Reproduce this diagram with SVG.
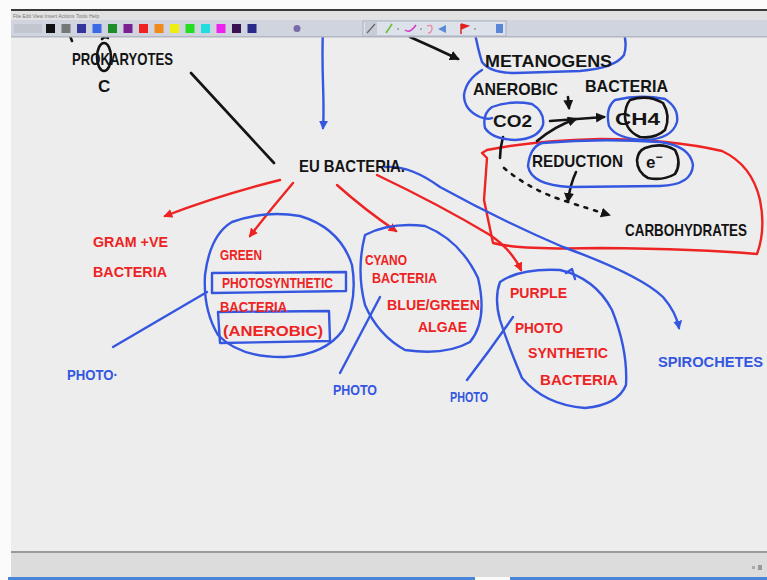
<svg xmlns="http://www.w3.org/2000/svg" width="767" height="580" viewBox="0 0 767 580">
  <style>
    .ink { fill: none; stroke-linecap: round; stroke-linejoin: round; }
    .k { stroke: #141414; stroke-width: 2.6; }
    .r { stroke: #ee2323; stroke-width: 2.4; }
    .b { stroke: #3557e0; stroke-width: 2.4; }
    .t { font-family: "Liberation Sans", "DejaVu Sans", sans-serif; font-weight: bold; }
    .tk { fill: #141414; font-size: 17px; }
    .tr { fill: #ee2323; font-size: 15px; }
    .tb { fill: #3557e0; font-size: 15px; }
    .menu { font-family: "Liberation Sans", sans-serif; font-size: 5px; fill: #777; }
  </style>
  <defs>
    <marker id="ah-k" viewBox="0 0 10 10" refX="8" refY="5" markerWidth="10" markerHeight="10" markerUnits="userSpaceOnUse" orient="auto">
      <path d="M0 0 L10 5 L0 10 Z" fill="#141414"/>
    </marker>
    <marker id="ah-r" viewBox="0 0 10 10" refX="8" refY="5" markerWidth="9" markerHeight="9" markerUnits="userSpaceOnUse" orient="auto">
      <path d="M0 0 L10 5 L0 10 Z" fill="#ee2323"/>
    </marker>
    <marker id="ah-b" viewBox="0 0 10 10" refX="8" refY="5" markerWidth="9" markerHeight="9" markerUnits="userSpaceOnUse" orient="auto">
      <path d="M0 0 L10 5 L0 10 Z" fill="#3557e0"/>
    </marker>
  </defs>

  <!-- window background and canvas -->
  <rect x="0" y="0" width="767" height="580" fill="#fbfbfb"/>
  <rect x="11" y="37" width="756" height="515" fill="#ededed"/>

  <!-- large red enclosure on the right -->
  <g id="carbon-region">
    <path class="ink r" d="M487 150 L482 153 L487 158 L484 200 L493 243 Q520 250 600 248 Q700 249 757 254 Q766 230 760 200 Q752 165 722 151 Q670 139 600 139 Q530 141 487 150"/>
  </g>

  <!-- connectors -->
  <g id="connectors">
    <path class="ink k" d="M191 73 L274 163"/>
    <path class="ink b" d="M323 30 C321 70 325 100 323 128" marker-end="url(#ah-b)"/>
    <path class="ink k" d="M410 37 Q435 48 458 59" marker-end="url(#ah-k)"/>
    <path class="ink r" d="M280 180 Q220 195 165 216" marker-end="url(#ah-r)"/>
    <path class="ink r" d="M293 183 Q270 210 250 236" marker-end="url(#ah-r)"/>
    <path class="ink r" d="M337 185 Q365 210 396 231" marker-end="url(#ah-r)"/>
    <path class="ink r" d="M377 175 Q440 205 490 235 Q512 250 521 270" marker-end="url(#ah-r)"/>
    <path class="ink b" d="M385 167 Q410 165 440 187 Q500 220 563 247 Q640 275 663 297 Q676 312 679 328" marker-end="url(#ah-b)"/>
    <path class="ink b" d="M207 292 L113 347"/>
    <path class="ink b" d="M380 297 Q360 335 340 373"/>
    <path class="ink b" d="M513 317 Q490 350 467 380"/>
    <path class="ink k" d="M550 121 L604 117" marker-end="url(#ah-k)"/>
    <path class="ink k" d="M537 141 Q555 126 576 119" marker-end="url(#ah-k)"/>
    <path class="ink k" stroke-width="2" d="M568 97 L569 108" marker-end="url(#ah-k)"/>
    <path class="ink k" d="M576 172 Q570 185 568 201" marker-end="url(#ah-k)"/>
    <path class="ink k" d="M503 137 Q500 148 500 158"/>
    <path class="ink k" stroke-dasharray="3 7" d="M504 168 Q530 190 565 201 Q590 209 609 215" marker-end="url(#ah-k)"/>
  </g>

  <!-- nodes -->
  <g id="prokaryotes">
    <path class="ink k" stroke-width="1.8" d="M70 36 L72 41 M102 39 Q105 36 108 38"/>
    <text class="t tk" x="72" y="65" textLength="101" lengthAdjust="spacingAndGlyphs">PROKARYOTES</text>
    <ellipse class="ink k" stroke-width="2" cx="104" cy="57" rx="7" ry="14"/>
    <text class="t tk" x="98" y="92" font-size="16">C</text>
  </g>

  <g id="eubacteria">
    <text class="t tk" x="299" y="172" textLength="106" lengthAdjust="spacingAndGlyphs">EU BACTERIA.</text>
  </g>

  <g id="methanogens">
    <path class="ink b" d="M474 28 Q478 50 482 62 Q490 73 515 73 L580 71 Q615 68 624 55 Q628 42 622 28"/>
    <path class="ink b" d="M482 70 Q466 80 464 95 Q464 110 480 117 Q488 120 492 118"/>
    <text class="t tk" x="485" y="67" textLength="127" lengthAdjust="spacingAndGlyphs">METANOGENS</text>
    <text class="t tk" x="473" y="95" textLength="85" lengthAdjust="spacingAndGlyphs">ANEROBIC</text>
    <text class="t tk" x="585" y="92" textLength="83" lengthAdjust="spacingAndGlyphs">BACTERIA</text>
  </g>

  <g id="co2">
    <path class="ink b" d="M492 107 Q510 100 532 104 Q545 112 543 125 Q538 139 515 140 Q492 139 485 128 Q482 114 492 107 Z"/>
    <text class="t tk" x="493" y="127" textLength="39" lengthAdjust="spacingAndGlyphs">CO2</text>
  </g>

  <g id="ch4">
    <path class="ink b" d="M615 100 Q640 94 665 99 Q679 108 677 122 Q672 139 645 140 Q616 139 609 126 Q605 108 615 100 Z"/>
    <path class="ink k" stroke-width="2.2" d="M630 100 Q648 94 663 103 Q671 116 665 130 Q655 139 640 137 Q626 131 625 117 Q625 106 630 100 Z"/>
    <text class="t tk" x="615" y="125" textLength="45" lengthAdjust="spacingAndGlyphs">CH4</text>
  </g>

  <g id="reduction">
    <path class="ink b" d="M542 143 Q600 138 660 142 Q690 146 693 165 Q692 185 660 186 L570 187 Q531 185 528 166 Q530 147 542 143 Z"/>
    <path class="ink k" stroke-width="2.2" d="M645 148 Q662 142 675 150 Q682 163 675 174 Q663 181 648 178 Q637 172 637 160 Q638 151 645 148 Z"/>
    <text class="t tk" x="532" y="167" textLength="91" lengthAdjust="spacingAndGlyphs">REDUCTION</text>
    <text class="t tk" x="646" y="168">e<tspan dy="-7" font-size="12">−</tspan></text>
  </g>

  <g id="carbohydrates">
    <text class="t tk" x="625" y="236" font-size="16" textLength="122" lengthAdjust="spacingAndGlyphs">CARBOHYDRATES</text>
  </g>

  <g id="gram-positive">
    <text class="t tr" x="93" y="247" textLength="75" lengthAdjust="spacingAndGlyphs">GRAM +VE</text>
    <text class="t tr" x="93" y="277" textLength="74" lengthAdjust="spacingAndGlyphs">BACTERIA</text>
  </g>

  <g id="green-bacteria">
    <path class="ink b" d="M232 222 Q265 210 300 216 Q340 228 352 265 Q358 300 343 330 Q325 355 285 357 Q240 358 218 335 Q203 310 205 275 Q210 235 232 222 Z"/>
    <path class="ink b" d="M212 273 L346 272 L346 291 L212 293 Z"/>
    <path class="ink b" d="M218 312 L329 311 L330 341 L220 343 Z"/>
    <text class="t tr" x="220" y="260" textLength="42" lengthAdjust="spacingAndGlyphs">GREEN</text>
    <text class="t tr" x="222" y="288" textLength="111" lengthAdjust="spacingAndGlyphs">PHOTOSYNTHETIC</text>
    <text class="t tr" x="220" y="312" textLength="67" lengthAdjust="spacingAndGlyphs">BACTERIA</text>
    <text class="t tr" x="223" y="336" textLength="100" lengthAdjust="spacingAndGlyphs">(ANEROBIC)</text>
  </g>

  <g id="cyanobacteria">
    <path class="ink b" d="M365 235 Q390 222 425 226 Q460 240 478 278 Q488 320 470 342 Q445 356 405 350 Q378 335 365 305 Q356 270 365 235 Z"/>
    <text class="t tr" x="365" y="265" textLength="42" lengthAdjust="spacingAndGlyphs">CYANO</text>
    <text class="t tr" x="372" y="283" textLength="65" lengthAdjust="spacingAndGlyphs">BACTERIA</text>
    <text class="t tr" x="387" y="310" textLength="93" lengthAdjust="spacingAndGlyphs">BLUE/GREEN</text>
    <text class="t tr" x="418" y="332" textLength="49" lengthAdjust="spacingAndGlyphs">ALGAE</text>
  </g>

  <g id="purple-bacteria">
    <path class="ink b" d="M500 282 Q520 268 560 270 Q595 278 612 310 Q628 350 626 385 Q618 405 585 408 Q545 405 522 378 Q508 345 500 320 Q494 298 500 282 Z"/>
    <path class="ink b" stroke-width="2" d="M566 273 L572 269 L575 279"/>
    <text class="t tr" x="510" y="298" textLength="57" lengthAdjust="spacingAndGlyphs">PURPLE</text>
    <text class="t tr" x="515" y="333" textLength="48" lengthAdjust="spacingAndGlyphs">PHOTO</text>
    <text class="t tr" x="528" y="358" textLength="80" lengthAdjust="spacingAndGlyphs">SYNTHETIC</text>
    <text class="t tr" x="540" y="385" textLength="78" lengthAdjust="spacingAndGlyphs">BACTERIA</text>
  </g>

  <g id="spirochetes">
    <text class="t tb" x="658" y="367" textLength="105" lengthAdjust="spacingAndGlyphs">SPIROCHETES</text>
  </g>

  <g id="photo-labels">
    <text class="t tb" x="67" y="380" textLength="51" lengthAdjust="spacingAndGlyphs">PHOTO·</text>
    <text class="t tb" x="333" y="395" textLength="44" lengthAdjust="spacingAndGlyphs">PHOTO</text>
    <text class="t tb" x="450" y="402" font-size="13" textLength="38" lengthAdjust="spacingAndGlyphs">PHOTO</text>
  </g>

  <!-- application chrome: menu, toolbar, status strip -->
  <g id="chrome">
    <rect x="11" y="9" width="756" height="2" fill="#3a3a3a"/>
    <rect x="11" y="11" width="756" height="9" fill="#e2e2e2"/>
    <text class="menu" x="13" y="17.5">File  Edit  View  Insert  Actions  Tools  Help</text>
    <rect x="11" y="20" width="756" height="17" fill="#cfd4de"/>
    <rect x="11" y="36" width="756" height="1.5" fill="#b3b8c2"/>
    <rect x="14" y="24" width="28" height="9" fill="#c2c6ce"/>
    <g id="swatches">
      <rect x="46" y="24" width="9" height="9" fill="#111"/>
      <rect x="61.5" y="24" width="9" height="9" fill="#777"/>
      <rect x="77" y="24" width="9" height="9" fill="#33359a"/>
      <rect x="92.5" y="24" width="9" height="9" fill="#3a6ae6"/>
      <rect x="108" y="24" width="9" height="9" fill="#1d8c2a"/>
      <rect x="123.5" y="24" width="9" height="9" fill="#7a1f90"/>
      <rect x="139" y="24" width="9" height="9" fill="#ee2222"/>
      <rect x="154.5" y="24" width="9" height="9" fill="#f08a1a"/>
      <rect x="170" y="24" width="9" height="9" fill="#eeee10"/>
      <rect x="185.5" y="24" width="9" height="9" fill="#22dd22"/>
      <rect x="201" y="24" width="9" height="9" fill="#22dddd"/>
      <rect x="216.5" y="24" width="9" height="9" fill="#ee22ee"/>
      <rect x="232" y="24" width="9" height="9" fill="#3a1050"/>
      <rect x="247.5" y="24" width="9" height="9" fill="#2a2a8a"/>
    </g>
    <circle cx="297" cy="28.5" r="3.5" fill="#7a6aa8"/>
    <rect x="363" y="21" width="143" height="15" fill="#dde1ea" stroke="#aab1c0" stroke-width="1"/>
    <rect x="365" y="22" width="12" height="13" fill="#c8ccd6"/>
    <path d="M367 33 L375 24" stroke="#666" stroke-width="1.2"/>
    <path d="M386 33 L392 24" stroke="#6cbf3a" stroke-width="1.6"/>
    <circle cx="398" cy="29" r="0.8" fill="#666"/>
    <path d="M405 30 Q410 34 416 25" stroke="#d23cc8" stroke-width="1.6" fill="none"/>
    <circle cx="421" cy="29" r="0.8" fill="#666"/>
    <path d="M427 26 Q432 24 432 28 Q432 33 428 33" stroke="#e88aa8" stroke-width="1.4" fill="none"/>
    <path d="M438 29 L446 25 L446 33 Z" fill="#5a8ad6"/>
    <path d="M461 24 L461 34 M461 24 L468 26 L461 29" stroke="#e02020" stroke-width="1.5" fill="#e02020"/>
    <circle cx="475" cy="29" r="0.8" fill="#666"/>
    <rect x="496" y="24" width="7" height="9" fill="#5a86d8"/>
    <rect x="11" y="551" width="756" height="2" fill="#9a9a9a"/>
    <rect x="11" y="553" width="756" height="24" fill="#dcdcdc"/>
    <rect x="752" y="566" width="3" height="3" fill="#aaa"/>
    <rect x="758" y="565" width="4" height="5" fill="#999"/>
    <rect x="8" y="577" width="467" height="3" fill="#4a86d8"/>
    <rect x="510" y="577" width="257" height="3" fill="#4a86d8"/>
  </g>
</svg>
